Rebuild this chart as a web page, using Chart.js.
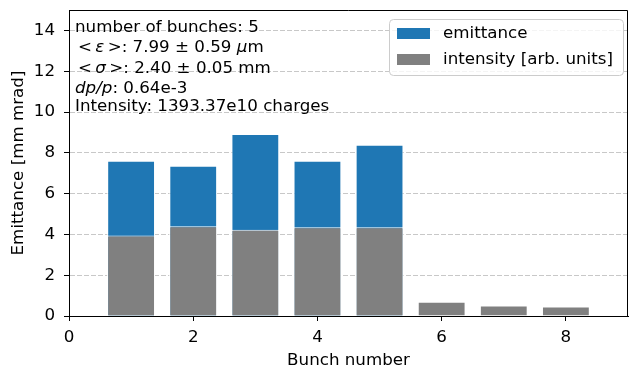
<!DOCTYPE html>
<html>
<head>
<meta charset="utf-8">
<script src="https://cdn.jsdelivr.net/npm/chart.js@4"></script>
<style>
  html, body { margin: 0; padding: 0; background: #fff; }
  canvas { display: block; }
</style>
</head>
<body>
<canvas id="bunchChart" width="629" height="366"></canvas>
<script>
// values
const bunches = [1, 2, 3, 4, 5, 6, 7, 8];
const emittance = [7.61, 7.37, 8.92, 7.61, 8.40];
const intensity = [3.94, 4.40, 4.23, 4.35, 4.35, 0.70, 0.52, 0.47];
const seriesNames = ["emittance", "intensity [arb. units]"];
const seriesColors = ["#1f77b4", "#808080"];

const FONT = "DejaVu Sans, sans-serif";
const FS = 16.7;

// info box lines, each split into pieces so the math bits can be italic
const infoLines = [
  [["number of bunches: 5", ""]],
  [["<", ""], ["\u2009", ""], ["\u03b5", "italic"], ["\u2009", ""], [">", ""], [": 7.99 \u00b1 0.59 ", ""], ["\u03bc", "italic"], ["m", ""]],
  [["<", ""], ["\u2009", ""], ["\u03c3", "italic"], ["\u2009", ""], [">", ""], [": 2.40 \u00b1 0.05 mm", ""]],
  [["dp/p", "italic"], [": 0.64e-3", ""]],
  [["Intensity: 1393.37e10 charges", ""]]
];

const frameAndText = {
  id: "frameAndText",
  afterDraw(chart) {
    const ctx = chart.ctx;
    const a = chart.chartArea;
    ctx.save();

    // box around the plot
    ctx.strokeStyle = "#000";
    ctx.lineWidth = 1;
    ctx.beginPath();
    ctx.moveTo(a.left, a.top + 0.5);
    ctx.lineTo(a.right - 0.5, a.top + 0.5);
    ctx.lineTo(a.right - 0.5, a.bottom);
    ctx.stroke();

    // info text, top left
    const baselines = [32, 52, 72.5, 92.5, 111];
    ctx.fillStyle = "#000";
    ctx.textBaseline = "alphabetic";
    infoLines.forEach(function (parts, i) {
      let x = parts[0][0] === "<" ? 78 : 75;
      parts.forEach(function (p) {
        ctx.font = (p[1] ? p[1] + " " : "") + FS + "px " + FONT;
        ctx.fillText(p[0], x, baselines[i]);
        x += ctx.measureText(p[0]).width;
      });
    });

    // legend, top right
    ctx.beginPath();
    ctx.roundRect(389.5, 19.5, 234, 56, 4);
    ctx.fillStyle = "rgba(255,255,255,0.8)";
    ctx.fill();
    ctx.strokeStyle = "#cccccc";
    ctx.stroke();
    ctx.font = FS + "px " + FONT;
    ctx.textBaseline = "middle";
    seriesNames.forEach(function (name, i) {
      const y = 28 + i * 26;
      ctx.fillStyle = seriesColors[i];
      ctx.fillRect(397, y, 33, 11);
      ctx.fillStyle = "#000";
      ctx.fillText(name, 443, y + 6);
    });

    ctx.restore();
  }
};

const ctx = document.getElementById("bunchChart");

new Chart(ctx, {
  type: "bar",
  data: {
    datasets: [
      {
        label: seriesNames[0],
        data: emittance.map(function (v, i) { return { x: bunches[i], y: v }; }),
        backgroundColor: seriesColors[0],
        borderColor: "#fff",
        borderWidth: 1,
        order: 2
      },
      {
        label: seriesNames[1],
        data: intensity.map(function (v, i) { return { x: bunches[i], y: v }; }),
        backgroundColor: seriesColors[1],
        borderColor: "#fff",
        borderWidth: 1,
        order: 1
      }
    ]
  },
  options: {
    responsive: false,
    devicePixelRatio: 1,
    animation: false,
    grouped: false,
    categoryPercentage: 0.77,
    barPercentage: 1,
    layout: { padding: { top: 10, right: 1, bottom: 0, left: 0 } },
    plugins: {
      legend: { display: false },
      tooltip: { enabled: false }
    },
    scales: {
      x: {
        type: "linear",
        min: 0,
        max: 9,
        offset: false,
        afterFit: function (scale) {
          scale.height = 50;
          scale.paddingLeft = 0;
          scale.paddingRight = 0;
        },
        ticks: {
          stepSize: 2,
          includeBounds: false,
          maxRotation: 0,
          padding: 7,
          color: "#000",
          font: { family: FONT, size: FS }
        },
        grid: {
          offset: false,
          drawOnChartArea: false,
          tickLength: 5,
          tickColor: "#000"
        },
        border: { color: "#000", width: 1 },
        title: {
          display: true,
          text: "Bunch number",
          color: "#000",
          font: { family: FONT, size: FS },
          padding: { top: 0, bottom: -5 }
        }
      },
      y: {
        min: 0,
        max: 15,
        afterFit: function (scale) {
          scale.width = 69;
          scale.paddingTop = 0;
          scale.paddingBottom = 0;
        },
        ticks: {
          stepSize: 2,
          includeBounds: false,
          padding: 9,
          color: "#000",
          font: { family: FONT, size: FS }
        },
        grid: {
          color: "rgba(176,176,176,0.7)",
          lineWidth: 1,
          tickLength: 5,
          tickColor: "#000",
          tickBorderDash: []
        },
        border: { color: "#000", width: 1, dash: [5, 2] },
        title: {
          display: true,
          text: "Emittance [mm mrad]",
          color: "#000",
          font: { family: FONT, size: FS },
          padding: { top: 9, bottom: 0 }
        }
      }
    }
  },
  plugins: [frameAndText]
});
</script>
</body>
</html>
